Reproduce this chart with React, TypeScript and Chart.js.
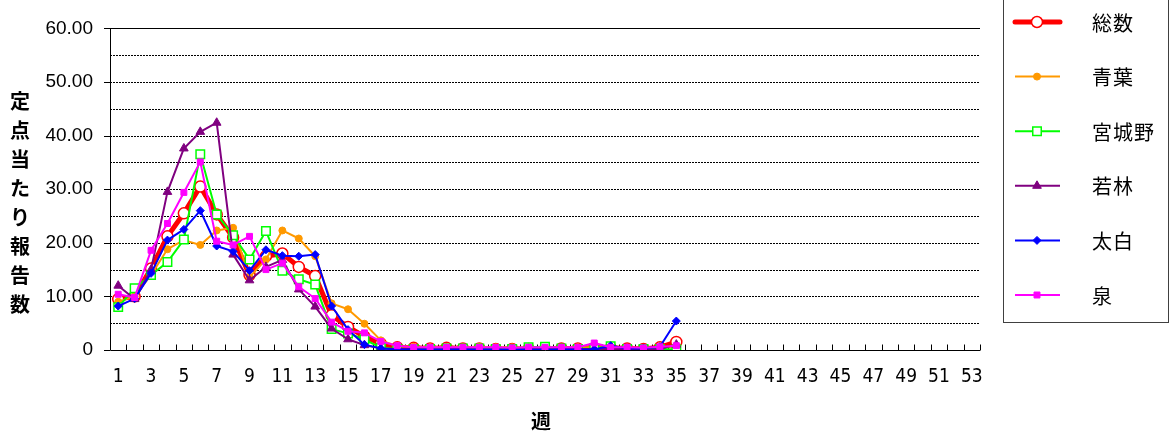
import React, { useEffect, useRef } from 'react';
import { Chart, registerables } from 'chart.js';

Chart.register(...registerables);

const weekLabels = [
  '1', '2', '3', '4', '5', '6', '7', '8', '9', '10',
  '11', '12', '13', '14', '15', '16', '17', '18', '19', '20',
  '21', '22', '23', '24', '25', '26', '27', '28', '29', '30',
  '31', '32', '33', '34', '35', '36', '37', '38', '39', '40',
  '41', '42', '43', '44', '45', '46', '47', '48', '49', '50',
  '51', '52', '53',
];

const seriesNames = ['総数', '青葉', '宮城野', '若林', '太白', '泉'];

const totalValues = [9.5, 10, 15.2, 21.2, 25.5, 30.5, 25.3, 21, 14, 17.5, 18, 15.5, 13.8, 6.5, 4.3, 2.5, 1.2, 0.5, 0.4, 0.3, 0.4, 0.3, 0.3, 0.2, 0.2, 0.2, 0.2, 0.3, 0.3, 0.4, 0.4, 0.3, 0.2, 0.5, 1.5];
const aobaValues = [9, 10, 14, 18.8, 20.5, 19.6, 22.3, 22.8, 13.6, 16.9, 22.3, 20.8, 17.5, 8.7, 7.6, 4.9, 1.8, 0.7, 0.6, 0.5, 0.5, 0.5, 0.6, 0.5, 0.5, 0.4, 0.5, 0.4, 0.5, 0.5, 0.5, 0.4, 0.4, 0.4, 0.6];
const miyaginoValues = [8, 11.5, 14, 16.4, 20.6, 36.5, 25.3, 21.4, 16.9, 22.2, 14.8, 13.2, 12.2, 3.9, 3.1, 2, 0.4, 0.2, 0.2, 0.2, 0.3, 0.3, 0.3, 0.2, 0.2, 0.5, 0.6, 0.3, 0.2, 0.3, 0.7, 0.2, 0.2, 0.2, 0.1];
const wakabayashiValues = [12, 9.5, 15, 29.5, 37.6, 40.7, 42.4, 17.8, 13, 15.5, 16.8, 11.3, 8.1, 4, 2, 0.9, 0.3, 0.2, 0.2, 0.1, 0.2, 0.2, 0.1, 0.1, 0.1, 0.2, 0.1, 0.2, 0.2, 0.2, 0.2, 0.2, 0.1, 0.2, 1];
const taihakuValues = [8.2, 9.6, 14.3, 20.5, 22.5, 26, 19.4, 18.4, 14.8, 18.7, 17.6, 17.5, 17.8, 8.2, 3.8, 1, 0.3, 0.1, 0.1, 0.1, 0.1, 0.1, 0.1, 0.1, 0.1, 0.1, 0.1, 0.1, 0.1, 0.1, 0.8, 0.3, 0.3, 0.6, 5.4];
const izumiValues = [10.4, 9.8, 18.6, 23.6, 29.4, 35.1, 20.3, 19.6, 21.2, 15, 16.2, 11.8, 9.6, 5.2, 3.5, 3.2, 1.6, 0.8, 0.5, 0.5, 0.5, 0.5, 0.5, 0.5, 0.4, 0.5, 0.5, 0.5, 0.5, 1.3, 0.5, 0.5, 0.4, 0.6, 0.8];

const yMin = 0;
const yMax = 60;
const yStep = 5;
const yLabelStep = 10;

const yTitleChars = ['定', '点', '当', 'た', 'り', '報', '告', '数'];
const xTitle = '週';

type Marker = 'circle' | 'rect' | 'triangle' | 'rectRot';

function drawMarker(ctx: CanvasRenderingContext2D, style: Marker, x: number, y: number, r: number, fill: string, stroke: string, bw: number) {
  ctx.save();
  ctx.setLineDash([]);
  ctx.beginPath();
  if (style === 'circle') {
    ctx.arc(x, y, r, 0, Math.PI * 2);
  } else if (style === 'rect') {
    const s = r * Math.SQRT1_2;
    ctx.rect(x - s, y - s, 2 * s, 2 * s);
  } else if (style === 'triangle') {
    ctx.moveTo(x, y - r);
    ctx.lineTo(x + r * 0.866, y + r * 0.5);
    ctx.lineTo(x - r * 0.866, y + r * 0.5);
    ctx.closePath();
  } else {
    ctx.moveTo(x, y - r);
    ctx.lineTo(x + r, y);
    ctx.lineTo(x, y + r);
    ctx.lineTo(x - r, y);
    ctx.closePath();
  }
  ctx.fillStyle = fill;
  ctx.fill();
  ctx.lineWidth = bw;
  ctx.strokeStyle = stroke;
  ctx.stroke();
  ctx.restore();
}

const gridPlugin = {
  id: 'excelGrid',
  beforeDatasetsDraw(chart: any) {
    const { ctx, chartArea } = chart;
    const { left, right, top, bottom } = chartArea;
    const ys = chart.scales.y;
    const xs = chart.scales.x;
    ctx.save();
    ctx.lineWidth = 1;
    ctx.strokeStyle = '#000';
    ys.ticks.forEach((t: any) => {
      const v = t.value;
      const py = Math.round(ys.getPixelForValue(v)) + 0.5;
      if (v === yMin) return;
      ctx.beginPath();
      if (v === yMax) ctx.setLineDash([]);
      else ctx.setLineDash([2, 1]);
      ctx.moveTo(left, py);
      ctx.lineTo(right, py);
      ctx.stroke();
    });
    ctx.setLineDash([]);
    ys.ticks.forEach((t: any) => {
      if (t.value % yLabelStep !== 0) return;
      const py = Math.round(ys.getPixelForValue(t.value)) + 0.5;
      ctx.beginPath();
      ctx.moveTo(left - 6, py);
      ctx.lineTo(left, py);
      ctx.stroke();
    });
    const n = xs.getLabels().length;
    const half = (xs.getPixelForValue(1) - xs.getPixelForValue(0)) / 2;
    const bx = Math.round(bottom) + 0.5;
    for (let i = 0; i < n; i++) {
      const px = Math.round(xs.getPixelForValue(i) + half) + 0.5;
      ctx.beginPath();
      ctx.moveTo(px, bx - 6);
      ctx.lineTo(px, bx);
      ctx.stroke();
    }
    const lx = Math.round(left) + 0.5;
    ctx.beginPath();
    ctx.moveTo(lx, Math.round(top));
    ctx.lineTo(lx, bx);
    ctx.lineTo(right, bx);
    ctx.stroke();
    ctx.restore();
  },
  afterDraw(chart: any) {
    const { ctx } = chart;
    ctx.save();
    ctx.strokeStyle = '#404040';
    ctx.lineWidth = 1;
    ctx.setLineDash([]);
    ctx.strokeRect(1003.5, -5.5, 165, 328);
    chart.data.datasets.forEach((ds: any, i: number) => {
      const cy = 22 + i * 54.6;
      ctx.beginPath();
      ctx.strokeStyle = ds.borderColor;
      ctx.lineWidth = ds.borderWidth;
      ctx.lineCap = i === 0 ? 'round' : 'butt';
      ctx.moveTo(1015, cy);
      ctx.lineTo(1060, cy);
      ctx.stroke();
      drawMarker(ctx, ds.pointStyle, 1037, cy, ds.pointRadius, ds.pointBackgroundColor, ds.pointBorderColor, ds.pointBorderWidth);
      ctx.fillStyle = '#000';
      ctx.font = '20px "Noto Sans CJK JP"';
      ctx.textBaseline = 'middle';
      ctx.textAlign = 'left';
      try { (ctx as any).letterSpacing = '1px'; } catch (e) { /* ignore */ }
      ctx.fillText(ds.label, 1092, cy + 1);
      try { (ctx as any).letterSpacing = '0px'; } catch (e) { /* ignore */ }
    });
    ctx.fillStyle = '#000';
    ctx.font = 'bold 20px "Noto Sans CJK JP"';
    ctx.textAlign = 'center';
    ctx.textBaseline = 'middle';
    yTitleChars.forEach((c, i) => {
      ctx.fillText(c, 20, 101 + i * 29);
    });
    ctx.fillText(xTitle, 541, 421);
    ctx.restore();
  },
};

export default function App() {
  const ref = useRef<HTMLCanvasElement | null>(null);

  useEffect(() => {
    const canvas = ref.current;
    if (!canvas) return;
    document.body.style.margin = '0';

    const mk = (label: string, data: number[], color: string, opts: any) => ({
      label,
      data,
      borderColor: color,
      backgroundColor: color,
      pointBorderColor: color,
      tension: 0,
      ...opts,
    });

    const datasets = [
      mk(seriesNames[0], totalValues, '#FF0000', { borderWidth: 5, pointStyle: 'circle', pointRadius: 5.5, pointBackgroundColor: '#FFFFFF', pointBorderWidth: 1.5, order: 5 }),
      mk(seriesNames[1], aobaValues, '#FF9900', { borderWidth: 2, pointStyle: 'circle', pointRadius: 3.5, pointBackgroundColor: '#FF9900', pointBorderWidth: 1, order: 4 }),
      mk(seriesNames[2], miyaginoValues, '#00FF00', { borderWidth: 2, pointStyle: 'rect', pointRadius: 6, pointBackgroundColor: '#FFFFFF', pointBorderWidth: 1.5, order: 3 }),
      mk(seriesNames[3], wakabayashiValues, '#800080', { borderWidth: 2, pointStyle: 'triangle', pointRadius: 5, pointBackgroundColor: '#800080', pointBorderWidth: 1, order: 2 }),
      mk(seriesNames[4], taihakuValues, '#0000FF', { borderWidth: 2, pointStyle: 'rectRot', pointRadius: 4, pointBackgroundColor: '#0000FF', pointBorderWidth: 1, order: 1 }),
      mk(seriesNames[5], izumiValues, '#FF00FF', { borderWidth: 2, pointStyle: 'rect', pointRadius: 4.2, pointBackgroundColor: '#FF00FF', pointBorderWidth: 1, order: 0 }),
    ];

    const chart = new Chart(canvas, {
      type: 'line',
      data: { labels: weekLabels, datasets },
      options: {
        animation: false,
        responsive: false,
        devicePixelRatio: 1,
        layout: { padding: { left: 0, right: 189, top: 18, bottom: 0 } },
        plugins: { legend: { display: false }, tooltip: { enabled: false }, title: { display: false } },
        elements: { line: { borderJoinStyle: 'round' } },
        scales: {
          x: {
            type: 'category',
            offset: true,
            grid: { display: false, drawTicks: false, offset: true },
            border: { display: false },
            ticks: {
              autoSkip: false,
              maxRotation: 0,
              minRotation: 0,
              padding: 16,
              color: '#000',
              font: { family: '"DejaVu Sans Condensed", "Liberation Sans", sans-serif', size: 19 },
              callback: (_v: any, i: number) => (i % 2 === 0 ? weekLabels[i] : ''),
            },
            afterFit: (s: any) => { s.height = 87; },
          },
          y: {
            min: yMin,
            max: yMax,
            grid: { display: false, drawTicks: false },
            border: { display: false },
            ticks: {
              stepSize: yStep,
              padding: 17,
              color: '#000',
              font: { family: '"Liberation Sans", sans-serif', size: 19 },
              callback: (v: any) => {
                const n = Number(v);
                if (n % yLabelStep !== 0) return '';
                return n === 0 ? '0' : n.toFixed(2);
              },
            },
            afterFit: (s: any) => { s.width = 110; },
          },
        },
      },
      plugins: [gridPlugin],
    } as any);

    return () => chart.destroy();
  }, []);

  return (
    <div style={{ position: 'fixed', left: 0, top: 0, width: 1169, height: 437, background: '#fff' }}>
      <canvas ref={ref} width={1169} height={437} style={{ display: 'block', width: 1169, height: 437 }} />
    </div>
  );
}
